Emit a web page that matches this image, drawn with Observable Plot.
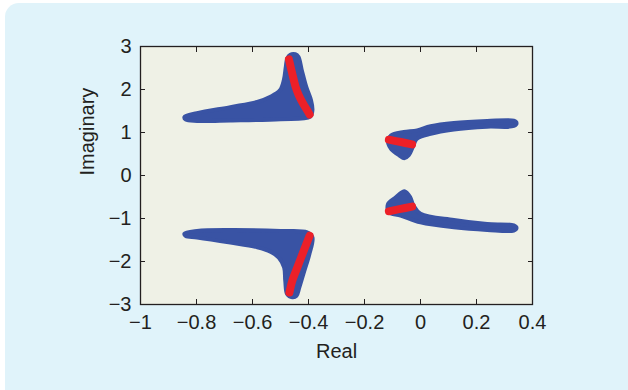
<!DOCTYPE html>
<html>
<head>
<meta charset="utf-8">
<script src="https://cdn.jsdelivr.net/npm/d3@7"></script>
<script src="https://cdn.jsdelivr.net/npm/@observablehq/plot@0.6"></script>
<style>
  html, body { margin: 0; padding: 0; background: #ffffff; }
  #wrap { position: relative; width: 628px; height: 390px; overflow: hidden; }
  #panel { position: absolute; left: 5px; top: 3px; width: 640px; height: 400px;
           background: #e0f3fa; border-top-left-radius: 14px; border-bottom-left-radius: 10px; }
  #chart { position: absolute; left: 0; top: 0; }
</style>
</head>
<body>
<div id="wrap"><div id="panel"></div><div id="chart"></div></div>
<script>
// Axis ticks
const xTicks = [-1, -0.8, -0.6, -0.4, -0.2, 0, 0.2, 0.4];
const yTicks = [-3, -2, -1, 0, 1, 2, 3];

// Blue root clouds (outline vertices)
const upperLeftX = [-0.843, -0.798, -0.679, -0.583, -0.536, -0.502, -0.488, -0.481, -0.476, -0.465, -0.447, -0.436, -0.424, -0.408, -0.391, -0.386, -0.394, -0.500, -0.679, -0.798, -0.838];
const upperLeftY = [1.36, 1.45, 1.59, 1.71, 1.83, 1.98, 2.22, 2.53, 2.72, 2.81, 2.82, 2.76, 2.45, 2.06, 1.75, 1.52, 1.37, 1.31, 1.28, 1.27, 1.30];

const lowerLeftX = [-0.843, -0.798, -0.679, -0.500, -0.405, -0.386, -0.397, -0.415, -0.433, -0.443, -0.458, -0.476, -0.483, -0.487, -0.506, -0.536, -0.583, -0.679, -0.798, -0.838];
const lowerLeftY = [-1.35, -1.29, -1.27, -1.29, -1.32, -1.44, -1.83, -2.22, -2.61, -2.80, -2.83, -2.76, -2.45, -2.14, -1.91, -1.77, -1.67, -1.56, -1.44, -1.41];

const upperRightX = [-0.116, -0.106, -0.060, -0.012, 0.036, 0.119, 0.238, 0.333, 0.343, 0.333, 0.238, 0.119, 0.036, -0.014, -0.025, -0.042, -0.058, -0.076, -0.105, -0.115];
const upperRightY = [0.82, 0.93, 1.01, 1.05, 1.145, 1.22, 1.265, 1.275, 1.22, 1.15, 1.135, 1.07, 0.97, 0.85, 0.70, 0.47, 0.40, 0.47, 0.62, 0.74];

const lowerRightX = [-0.056, -0.037, -0.025, 0.000, 0.119, 0.238, 0.333, 0.343, 0.333, 0.238, 0.119, 0.000, -0.071, -0.113, -0.116, -0.089, -0.066];
const lowerRightY = [-0.37, -0.50, -0.70, -0.89, -1.035, -1.13, -1.16, -1.22, -1.28, -1.265, -1.205, -1.09, -0.93, -0.855, -0.66, -0.51, -0.39];

// Red nominal root paths
const redULX = [-0.470, -0.464, -0.458, -0.446, -0.435, -0.419, -0.405, -0.396];
const redULY = [2.70, 2.53, 2.37, 2.06, 1.87, 1.67, 1.52, 1.42];
const redLLX = [-0.396, -0.417, -0.440, -0.458, -0.468];
const redLLY = [-1.40, -1.75, -2.14, -2.45, -2.72];
const redURX = [-0.113, -0.070, -0.030];
const redURY = [0.833, 0.778, 0.723];
const redLRX = [-0.113, -0.071, -0.030];
const redLRY = [-0.833, -0.778, -0.723];

const BLUE = "#3953a4", RED = "#ec2028", INK = "#231f20";
const FS = 20;

function pts(xs, ys, g) { return xs.map((x, i) => ({x, y: ys[i], g})); }
const cloud = [
  ...pts(upperLeftX, upperLeftY, "ul"),
  ...pts(lowerLeftX, lowerLeftY, "ll"),
  ...pts(upperRightX, upperRightY, "ur"),
  ...pts(lowerRightX, lowerRightY, "lr")
];
const red = [
  ...pts(redULX, redULY, "ul"),
  ...pts(redLLX, redLLY, "ll"),
  ...pts(redURX, redURY, "ur"),
  ...pts(redLRX, redLRY, "lr")
];

const minus = (v) => String(v).replace("-", "\u2212");

const chart = Plot.plot({
  width: 628,
  height: 390,
  marginLeft: 140,
  marginRight: 96,
  marginTop: 46,
  marginBottom: 86,
  style: { background: "transparent", fontFamily: "'Liberation Sans', Arial, Helvetica, sans-serif", fontSize: FS + "px", color: INK },
  x: { domain: [-1, 0.4], axis: null },
  y: { domain: [-3, 3], axis: null },
  marks: [
    Plot.frame({ fill: "#eff1e6", stroke: null }),
    Plot.line(cloud, { x: "x", y: "y", z: "g", fill: BLUE, stroke: BLUE, strokeWidth: 4, strokeLinejoin: "round", curve: "catmull-rom-closed" }),
    Plot.line(red, { x: "x", y: "y", z: "g", stroke: RED, strokeWidth: 8, strokeLinecap: "round", strokeLinejoin: "round", curve: "catmull-rom" }),
    Plot.axisX({ anchor: "bottom", ticks: xTicks, tickSize: -5, tickFormat: () => "", label: null, stroke: INK }),
    Plot.axisX({ anchor: "top", ticks: xTicks, tickSize: -5, tickFormat: () => "", label: null, stroke: INK }),
    Plot.axisY({ anchor: "left", ticks: yTicks, tickSize: -5, tickFormat: () => "", label: null, stroke: INK }),
    Plot.axisY({ anchor: "right", ticks: yTicks, tickSize: -5, tickFormat: () => "", label: null, stroke: INK }),
    Plot.axisX({ anchor: "bottom", ticks: xTicks, tickSize: 0, tickPadding: 10, tickFormat: minus, label: null, fill: INK, fontSize: FS }),
    Plot.axisY({ anchor: "left", ticks: yTicks, tickSize: 0, tickPadding: 9, tickFormat: minus, label: null, fill: INK, fontSize: FS }),
    Plot.frame({ stroke: INK, strokeWidth: 1.3 }),
    Plot.text(["Real"], { frameAnchor: "bottom", dy: 53, lineAnchor: "bottom", text: d => d, fill: INK, fontSize: FS }),
    Plot.text(["Imaginary"], { frameAnchor: "left", dx: -53, rotate: -90, text: d => d, fill: INK, fontSize: FS })
  ]
});
document.getElementById("chart").appendChild(chart);
</script>
</body>
</html>
